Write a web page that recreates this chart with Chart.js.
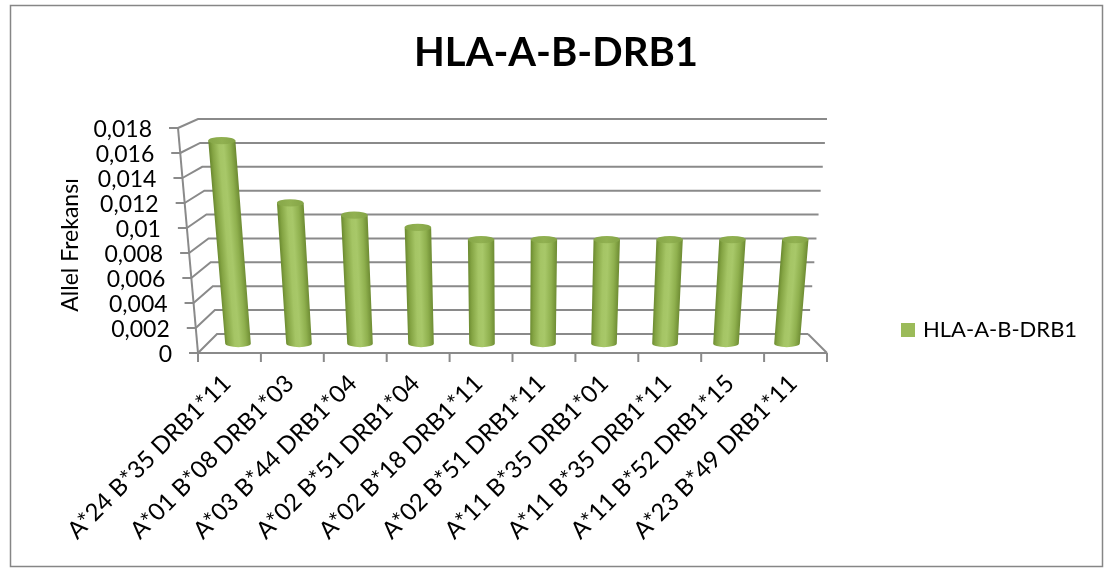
<!DOCTYPE html>
<html>
<head>
<meta charset="utf-8">
<script src="https://cdn.jsdelivr.net/npm/chart.js@4.4.1/dist/chart.umd.min.js"></script>
<style>
  html, body { margin: 0; padding: 0; background: #ffffff; }
  #wrap { width: 1110px; height: 579px; }
</style>
</head>
<body>
<div id="wrap"><canvas id="chart" width="1110" height="579"></canvas></div>
<script>
// ---- chart data ----
const chartTitle = 'HLA-A-B-DRB1';
const seriesName = 'HLA-A-B-DRB1';
const yAxisTitle = 'Allel Frekansı';

const haplotypes = [
  'A*24 B*35 DRB1*11',
  'A*01 B*08 DRB1*03',
  'A*03 B*44 DRB1*04',
  'A*02 B*51 DRB1*04',
  'A*02 B*18 DRB1*11',
  'A*02 B*51 DRB1*11',
  'A*11 B*35 DRB1*01',
  'A*11 B*35 DRB1*11',
  'A*11 B*52 DRB1*15',
  'A*23 B*49 DRB1*11'
];
const frequencies = [0.0166, 0.0115, 0.0105, 0.0095, 0.0085, 0.0085, 0.0085, 0.0085, 0.0085, 0.0085];

const yTickValues = [0, 0.002, 0.004, 0.006, 0.008, 0.01, 0.012, 0.014, 0.016, 0.018];
const yTickLabels = ['0', '0,002', '0,004', '0,006', '0,008', '0,01', '0,012', '0,014', '0,016', '0,018'];

// ---- styling ----
const FONT = 'Lato, "Open Sans", sans-serif';
const SERIES_COLOR = '#9BBB59';
const LINE_COLOR = '#8a8a8a';

// Perspective of the 3-D box: the front plane is the chart area, the back
// wall sits higher and narrower, and both flare slightly toward the top.
const VIEW = {
  frontFlare: 0.0636,   // extra half-width of the front plane at the top
  backDrop: 19,         // back floor edge lies this many px above the front one
  backScale: 0.9556,    // vertical scale of the back wall
  backWidth: 0.9396,    // half-width of the back floor relative to the front
  backFlare: 0.0604,    // extra half-width of the back wall at the top
  barDepth: 0.5         // cylinders stand halfway between front and back
};

function project(ca, xf, yf, d) {
  const cx = (ca.left + ca.right) / 2;
  const hw = (ca.right - ca.left) / 2;
  const h = ca.bottom - ca.top;
  const v = (ca.bottom - yf) / h;
  const u = (xf - cx) / hw;
  const frontY = yf;
  const frontHW = hw * (1 + VIEW.frontFlare * v);
  const backY = ca.bottom - VIEW.backDrop - v * h * VIEW.backScale;
  const backHW = hw * (VIEW.backWidth + VIEW.backFlare * v);
  const y = frontY + d * (backY - frontY);
  const w = frontHW + d * (backHW - frontHW);
  return { x: cx + u * w, y: y, s: w / hw };
}

function line(ctx, pts) {
  ctx.beginPath();
  ctx.moveTo(pts[0].x, pts[0].y);
  for (let i = 1; i < pts.length; i++) ctx.lineTo(pts[i].x, pts[i].y);
  ctx.stroke();
}

const perspectivePlugin = {
  id: 'perspectiveBox',
  beforeDraw(chart) {
    const ctx = chart.ctx;
    ctx.save();
    ctx.fillStyle = '#ffffff';
    ctx.fillRect(0, 0, chart.width, chart.height);
    ctx.strokeStyle = '#868686';
    ctx.lineWidth = 1.5;
    ctx.strokeRect(10.5, 5.5, 1092, 561);
    ctx.restore();
  },
  beforeDatasetsDraw(chart) {
    const ctx = chart.ctx;
    const ca = chart.chartArea;
    const ys = chart.scales.y;
    const xs = chart.scales.x;
    ctx.save();
    ctx.strokeStyle = LINE_COLOR;
    ctx.lineWidth = 2;
    ctx.lineCap = 'butt';
    // gridlines: left wall diagonal + back wall horizontal
    yTickValues.forEach(t => {
      const yf = ys.getPixelForValue(t);
      const a = project(ca, ca.left, yf, 0);
      const b = project(ca, ca.left, yf, 1);
      const c = project(ca, ca.right, yf, 1);
      line(ctx, [a, b, c]);
      line(ctx, [{ x: a.x - 9, y: a.y }, a]);
    });
    // left front edge (value axis)
    line(ctx, [project(ca, ca.left, ca.top, 0), project(ca, ca.left, ca.bottom, 0)]);
    // floor: front edge and right side
    line(ctx, [project(ca, ca.left, ca.bottom, 0), project(ca, ca.right, ca.bottom, 0)]);
    line(ctx, [project(ca, ca.right, ca.bottom, 1), project(ca, ca.right, ca.bottom, 0)]);
    // category tick marks
    const step = (ca.right - ca.left) / haplotypes.length;
    for (let i = 0; i <= haplotypes.length; i++) {
      const xf = i < haplotypes.length ? xs.getPixelForValue(i) - step / 2 : xs.getPixelForValue(i - 1) + step / 2;
      const p = project(ca, xf, ca.bottom, 0);
      line(ctx, [p, { x: p.x, y: p.y + 9 }]);
    }
    ctx.restore();
  },
  afterDatasetsDraw(chart) {
    const ctx = chart.ctx;
    const ca = chart.chartArea;
    const meta = chart.getDatasetMeta(0);
    meta.data.forEach(el => {
      const B = project(ca, el.x, el.base, VIEW.barDepth);
      const T = project(ca, el.x, el.y, VIEW.barDepth);
      const r0 = el.width / 2 * B.s;
      const r1 = el.width / 2 * T.s;
      const ry = ((r0 + r1) / 2) * 0.28;
      const H = T.y - B.y;
      const k = (T.x - B.x) / H;
      ctx.save();
      ctx.translate(B.x, B.y);
      ctx.transform(1, 0, k, 1, 0, 0);
      const r = (r0 + r1) / 2;
      const g = ctx.createLinearGradient(-r, 0, r, 0);
      g.addColorStop(0.0, '#6b8a30');
      g.addColorStop(0.12, '#84a443');
      g.addColorStop(0.38, '#a5c565');
      g.addColorStop(0.55, '#a8c869');
      g.addColorStop(0.8, '#8fb04e');
      g.addColorStop(1.0, '#6e8c33');
      ctx.beginPath();
      ctx.moveTo(-r1, H);
      ctx.lineTo(-r0, 0);
      ctx.ellipse(0, 0, r0, ry, 0, Math.PI, 0, true);
      ctx.lineTo(r1, H);
      ctx.closePath();
      ctx.fillStyle = g;
      ctx.fill();
      // top face
      const gt = ctx.createLinearGradient(-r1, H, r1, H);
      gt.addColorStop(0, '#86a648');
      gt.addColorStop(0.5, '#91b151');
      gt.addColorStop(1, '#84a446');
      ctx.beginPath();
      ctx.ellipse(0, H, r1, ry, 0, 0, Math.PI * 2);
      ctx.fillStyle = gt;
      ctx.fill();
      ctx.restore();
    });
  },
  afterDraw(chart) {
    const ctx = chart.ctx;
    const ca = chart.chartArea;
    const ys = chart.scales.y;
    const xs = chart.scales.x;
    ctx.save();
    ctx.fillStyle = '#000000';
    // title
    ctx.font = 'bold 40px ' + FONT;
    ctx.textAlign = 'center';
    ctx.textBaseline = 'alphabetic';
    ctx.fillText(chartTitle, 556, 66);
    // value-axis labels
    ctx.font = '23px ' + FONT;
    ctx.textAlign = 'right';
    ctx.textBaseline = 'middle';
    yTickValues.forEach((t, i) => {
      const p = project(ca, ca.left, ys.getPixelForValue(t), 0);
      ctx.fillText(yTickLabels[i], p.x - 26, p.y + 2);
    });
    // value-axis title
    ctx.save();
    ctx.translate(71, 245);
    ctx.rotate(-Math.PI / 2);
    ctx.textAlign = 'center';
    ctx.textBaseline = 'middle';
    ctx.fillText(yAxisTitle, 0, 0);
    ctx.restore();
    // category labels, rotated 45 degrees
    ctx.font = '24px ' + FONT;
    ctx.textAlign = 'right';
    ctx.textBaseline = 'alphabetic';
    haplotypes.forEach((lab, i) => {
      const p = project(ca, xs.getPixelForValue(i), ca.bottom, 0);
      ctx.save();
      ctx.translate(p.x + 3, p.y + 32);
      ctx.rotate(-Math.PI / 4);
      ctx.fillText(lab, 0, 0);
      ctx.restore();
    });
    // legend
    ctx.fillStyle = SERIES_COLOR;
    ctx.fillRect(901, 323, 14, 14);
    ctx.fillStyle = '#000000';
    ctx.font = '22px ' + FONT;
    ctx.textAlign = 'left';
    ctx.textBaseline = 'alphabetic';
    ctx.fillText(seriesName, 923, 337);
    ctx.restore();
  }
};

new Chart(document.getElementById('chart'), {
  type: 'bar',
  data: {
    labels: haplotypes,
    datasets: [{
      label: seriesName,
      data: frequencies,
      backgroundColor: 'rgba(0,0,0,0)',
      borderWidth: 0,
      categoryPercentage: 1.0,
      barPercentage: 0.42
    }]
  },
  options: {
    responsive: false,
    devicePixelRatio: 1,
    animation: false,
    events: [],
    layout: { padding: { left: 198, right: 283, top: 128, bottom: 226 } },
    plugins: { legend: { display: false }, title: { display: false }, tooltip: { enabled: false } },
    scales: {
      x: { display: false, offset: true },
      y: { display: false, min: 0, max: 0.018, ticks: { stepSize: 0.002 } }
    }
  },
  plugins: [perspectivePlugin]
});
</script>
</body>
</html>
